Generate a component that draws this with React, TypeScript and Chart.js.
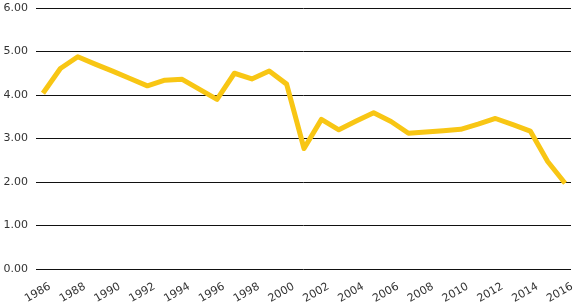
import React, { useEffect, useRef } from "react";
import { Chart, registerables } from "chart.js";

Chart.register(...registerables);

const years: number[] = [
  1986, 1987, 1988, 1989, 1990, 1991, 1992, 1993, 1994, 1995, 1996,
  1997, 1998, 1999, 2000, 2001, 2002, 2003, 2004, 2005, 2006, 2007,
  2008, 2009, 2010, 2011, 2012, 2013, 2014, 2015, 2016,
];
const values: number[] = [
  4.04, 4.61, 4.88, 4.71, 4.55, 4.38, 4.21, 4.34, 4.36, 4.13, 3.9,
  4.5, 4.37, 4.55, 4.25, 2.77, 3.44, 3.2, 3.4, 3.59, 3.39, 3.12,
  3.15, 3.18, 3.21, 3.33, 3.46, 3.32, 3.17, 2.47, 1.97,
];
const xTickYears: number[] = [
  1986, 1988, 1990, 1992, 1994, 1996, 1998, 2000, 2002, 2004, 2006,
  2008, 2010, 2012, 2014, 2016,
];
const yTicks: number[] = [0, 1, 2, 3, 4, 5, 6];

export default function App() {
  const ref = useRef<HTMLCanvasElement | null>(null);
  useEffect(() => {
    if (!ref.current) return;
    const font = { family: "'DejaVu Sans', sans-serif", size: 11 };
    const chart = new Chart(ref.current, {
      type: "line",
      data: {
        datasets: [
          {
            data: years.map((y, i) => ({ x: y, y: values[i] })),
            borderColor: "#F8C614",
            borderWidth: 5,
            pointRadius: 0,
            tension: 0,
            borderJoinStyle: "round",
            borderCapStyle: "butt",
          },
        ],
      },
      options: {
        animation: false,
        responsive: false,
        maintainAspectRatio: false,
        layout: { padding: { top: 8, right: 4, left: 0, bottom: 0 } },
        plugins: { legend: { display: false }, tooltip: { enabled: false } },
        scales: {
          x: {
            type: "linear",
            min: 1985.6,
            max: 2016.34,
            afterBuildTicks: (scale: any) => {
              scale.ticks = xTickYears.map((v) => ({ value: v }));
            },
            afterFit: (scale: any) => {
              scale.height = 38;
              scale.paddingLeft = 0;
              scale.paddingRight = 0;
              scale.paddingTop = 0;
              scale.paddingBottom = 0;
            },
            ticks: {
              minRotation: 30,
              maxRotation: 30,
              autoSkip: false,
              color: "#333",
              font,
              padding: 11,
              labelOffset: 7,
              callback: (v: any) => String(v),
            },
            grid: { display: false, drawTicks: false },
            border: { display: false },
          },
          y: {
            min: 0,
            max: 6,
            afterBuildTicks: (scale: any) => {
              scale.ticks = yTicks.map((v) => ({ value: v }));
            },
            afterFit: (scale: any) => {
              scale.width = 36;
              scale.paddingTop = 0;
              scale.paddingBottom = 0;
              scale.paddingLeft = 0;
              scale.paddingRight = 0;
            },
            ticks: {
              color: "#333",
              font,
              padding: 8,
              callback: (v: any) => Number(v).toFixed(2),
            },
            grid: { color: "#111", lineWidth: 1, drawTicks: false },
            border: { display: false },
          },
        },
      },
    });
    return () => chart.destroy();
  }, []);
  return (
    <div style={{ position: "absolute", left: 0, top: 0, width: 575, height: 307, background: "#fff" }}>
      <canvas ref={ref} width={575} height={307} style={{ width: 575, height: 307 }} />
    </div>
  );
}
